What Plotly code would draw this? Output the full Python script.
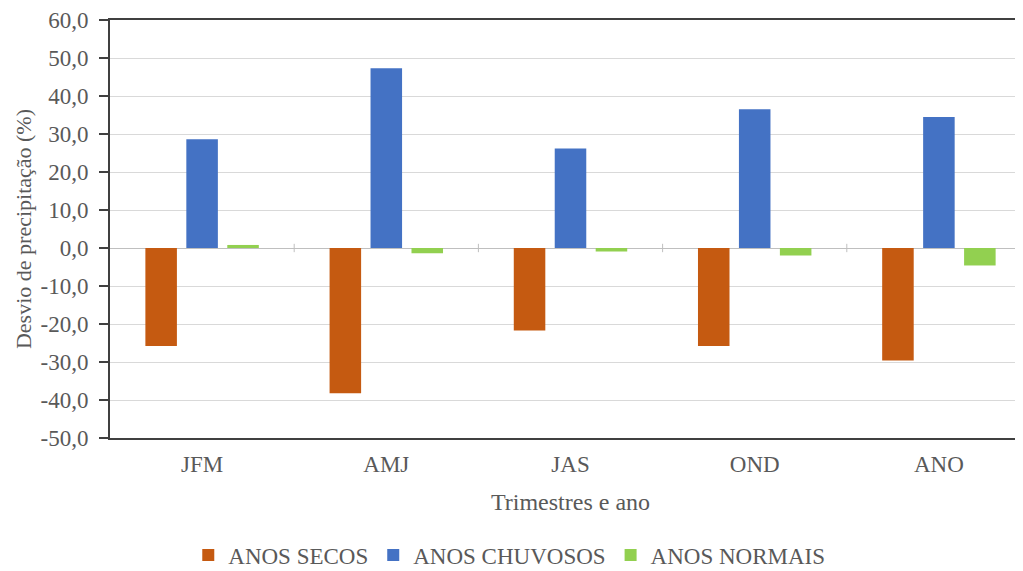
import plotly.graph_objects as go

categories = ["JFM", "AMJ", "JAS", "OND", "ANO"]
anos_secos = [-25.8, -38.2, -21.7, -25.8, -29.6]
anos_chuvosos = [28.6, 47.3, 26.2, 36.5, 34.5]
anos_normais = [0.8, -1.4, -0.9, -2.0, -4.6]

series_names = ["ANOS SECOS", "ANOS CHUVOSOS", "ANOS NORMAIS"]
series_colors = ["#C55A11", "#4472C4", "#92D050"]
y_ticks = [60, 50, 40, 30, 20, 10, 0, -10, -20, -30, -40, -50]
y_ticktext = [f"{v:.1f}".replace(".", ",") for v in y_ticks]

FONT = "Liberation Serif"
TXT = "#595959"

fig = go.Figure()
for name, vals, col in zip(series_names, [anos_secos, anos_chuvosos, anos_normais], series_colors):
    fig.add_trace(go.Bar(x=categories, y=vals, name=name, marker=dict(color=col, line=dict(width=0))))

# small tick marks on the zero line at category boundaries
for i in range(len(categories) - 1):
    fig.add_shape(type="line", xref="x", yref="y", x0=i + 0.5, x1=i + 0.5, y0=-1.1, y1=1.1,
                  line=dict(color="#BFBFBF", width=1), layer="below")

fig.update_layout(
    width=1023, height=571,
    margin=dict(l=102, r=0, t=12, b=141, autoexpand=False),
    paper_bgcolor="white", plot_bgcolor="white",
    separators=",.",
    barmode="group", bargap=0.333, bargroupgap=0.23,
    font=dict(family=FONT, size=24, color=TXT),
    showlegend=True,
    legend=dict(orientation="h", xref="container", yref="container", x=0.49, y=0.042,
                xanchor="center", yanchor="middle", font=dict(size=23, color=TXT),
                itemwidth=30, tracegroupgap=0),
    xaxis=dict(
        range=[-0.5, 4.5], showgrid=False, showline=True, linecolor="#404040", linewidth=2,
        mirror=True, ticks="", tickfont=dict(size=23, color=TXT), automargin=False,
        ticklabelstandoff=4,
        title=dict(text="Trimestres e ano", font=dict(size=24, color=TXT), standoff=18),
    ),
    yaxis=dict(
        range=[-50, 60], tickvals=y_ticks, ticktext=y_ticktext, showgrid=True, gridcolor="#D9D9D9",
        gridwidth=1, zeroline=True, zerolinecolor="#BFBFBF", zerolinewidth=1,
        showline=True, linecolor="#404040", linewidth=2, ticks="outside", ticklen=9,
        tickcolor="#404040", tickwidth=2, tickfont=dict(size=23, color=TXT), automargin=False,
        ticklabelstandoff=6,
        title=dict(text="Desvio de precipitação (%)", font=dict(size=22, color=TXT), standoff=3),
    ),
)

fig.write_html("out.html")
